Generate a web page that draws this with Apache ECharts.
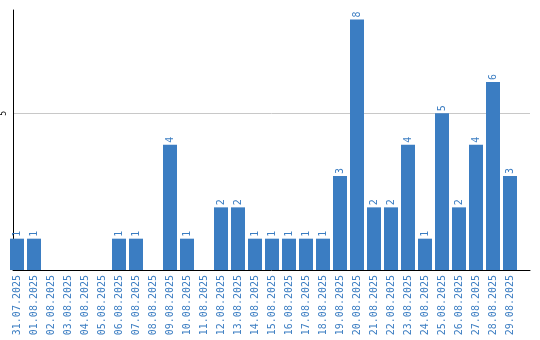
<!DOCTYPE html>
<html><head><meta charset="utf-8">
<script src="https://cdn.jsdelivr.net/npm/echarts@6/dist/echarts.min.js"></script>
<style>html,body{margin:0;padding:0;background:#fff}#c{width:540px;height:340px}</style>
</head><body><div id="c"></div>
<script>
const categories = ["31.07.2025","01.08.2025","02.08.2025","03.08.2025","04.08.2025","05.08.2025","06.08.2025","07.08.2025","08.08.2025","09.08.2025","10.08.2025","11.08.2025","12.08.2025","13.08.2025","14.08.2025","15.08.2025","16.08.2025","17.08.2025","18.08.2025","19.08.2025","20.08.2025","21.08.2025","22.08.2025","23.08.2025","24.08.2025","25.08.2025","26.08.2025","27.08.2025","28.08.2025","29.08.2025"];
const values = [1,1,0,0,0,0,1,1,0,4,1,0,2,2,1,1,1,1,1,3,8,2,2,4,1,5,2,4,6,3];
const yTicks = [0,5];
const yMax = 8.3;
const blue = '#3b7dc2';
const chart = echarts.init(document.getElementById('c'), null, {renderer:'canvas'});
chart.setOption({
  animation:false,
  grid:[
    {left:8.5, width:510, top:10, bottom:70},
    {left:10, right:10, top:10, bottom:70}
  ],
  xAxis:[
    {type:'category', gridIndex:0, data:categories,
     axisLine:{show:false}, axisTick:{show:false},
     axisLabel:{interval:0, rotate:90, margin:5, color:blue, fontFamily:'DejaVu Sans Mono', fontSize:10}},
    {type:'category', gridIndex:1, data:[''], axisLine:{show:true, lineStyle:{color:'#000', width:1}},
     axisTick:{show:false}, axisLabel:{show:false}}
  ],
  yAxis:[
    {type:'value', gridIndex:0, min:0, max:yMax, show:false, splitLine:{show:false}},
    {type:'value', gridIndex:1, min:yTicks[0], max:yMax, interval:yTicks[1]-yTicks[0],
     axisLine:{show:true, lineStyle:{color:'#000', width:1}}, axisTick:{show:false},
     splitLine:{show:false},
     axisLabel:{showMinLabel:false, showMaxLabel:false, rotate:90, margin:5, color:'#000', fontFamily:'DejaVu Sans Mono', fontSize:8,
       formatter:v=> yTicks.includes(v) && v!==0 ? String(v) : ''}}
  ],
  series:[{
    type:'bar', xAxisIndex:0, yAxisIndex:0, data:values, barWidth:14, z:10,
    itemStyle:{color:blue},
    label:{show:true, position:'top', rotate:90, align:'left', verticalAlign:'middle', distance:2,
      color:blue, fontFamily:'DejaVu Sans Mono', fontSize:10,
      formatter:p=> p.value>0 ? String(p.value) : ''}
  },{
    type:'line', xAxisIndex:1, yAxisIndex:1, data:[], silent:true, z:1,
    markLine:{silent:true, z:0, symbol:'none', label:{show:false},
      lineStyle:{color:'#c8c8c8', width:1, type:'solid'},
      data: yTicks.filter(v=>v!==0).map(v=>({yAxis:v}))}
  }]
});
</script></body></html>
